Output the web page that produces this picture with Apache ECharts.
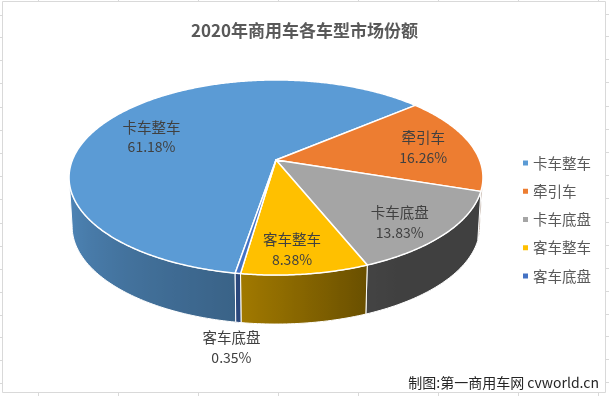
<!DOCTYPE html>
<html><head><meta charset="utf-8">
<script src="https://cdn.jsdelivr.net/npm/echarts/dist/echarts.min.js"></script>
<style>html,body{margin:0;padding:0;background:#fff;overflow:hidden}#c{width:609px;height:396px}</style>
</head><body><div id="c"></div>
<script>
// ---- data ----
const categories = ['卡车整车', '牵引车', '卡车底盘', '客车整车', '客车底盘'];
const shares = [61.18, 16.26, 13.83, 8.38, 0.35];
const colors = ['#5B9BD5', '#ED7D31', '#A5A5A5', '#FFC000', '#4472C4'];
const titleText = '2020年商用车各车型市场份额';
const creditText = '制图:第一商用车网 cvworld.cn';

// ---- layout (geometry of the 3D pie, not data) ----
const G = {cx: 276, cy: 160, A: 203.6, B: 94.4, p: 0.1795, depth: 49, bottomScale: 0.985, start: 189.5};
const labelNudge = [[0, 10], [1, 1], [1, 9], [-5, 8.5], [-7, 25]];
const FONT = '"Noto Sans CJK SC", "Noto Sans", sans-serif';

function proj(phi, r, bottom) {
  const t = phi * Math.PI / 180;
  const u = r * Math.sin(t), v = r * Math.cos(t);
  const s = 1 + G.p * v;
  let x = G.cx + G.A * u / s, y = G.cy - G.B * v / s;
  if (bottom) { x = G.cx + (x - G.cx) * G.bottomScale; y += G.depth; }
  return [x, y];
}
const total = shares.reduce((a, b) => a + b, 0);
const startAngles = [];
(function () { let acc = 0; shares.forEach(v => { startAngles.push(G.start + 360 * acc / total); acc += v; }); })();

function shadeFactor(phi) {
  phi = ((phi % 360) + 360) % 360;
  const pts = [[0, 0.39], [150, 0.39], [158, 0.41], [188, 0.63], [260, 0.88], [360, 0.88]];
  for (let k = 1; k < pts.length; k++) {
    if (phi <= pts[k][0]) {
      const [x0, y0] = pts[k - 1], [x1, y1] = pts[k];
      return y0 + (y1 - y0) * (phi - x0) / (x1 - x0);
    }
  }
  return 0.88;
}
function shade(hex, f) {
  const n = parseInt(hex.slice(1), 16);
  const r = Math.round(((n >> 16) & 255) * f), g = Math.round(((n >> 8) & 255) * f), b = Math.round((n & 255) * f);
  return 'rgb(' + r + ',' + g + ',' + b + ')';
}

function makeRender(i) {
  return function (params, api) {
    const value = api.value(0);
    const a0 = startAngles[i], a1 = a0 + 360 * value / total;
    const children = [];
    const sil = 90 + Math.asin(G.p) * 180 / Math.PI;
    const sil2 = 360 - sil;
    for (let k = -1; k <= 2; k++) {
      const lo = Math.max(a0, sil + 360 * k), hi = Math.min(a1, sil2 + 360 * k);
      if (hi > lo) {
        const n = Math.max(2, Math.ceil(hi - lo));
        const top = [], bot = [], samples = [];
        for (let j = 0; j <= n; j++) {
          const ph = lo + (hi - lo) * j / n;
          top.push(proj(ph, 1, false)); bot.push(proj(ph, 1, true)); samples.push(ph);
        }
        const pts = top.concat(bot.slice().reverse());
        const xs = pts.map(p => p[0]);
        const xmin = Math.min.apply(null, xs), xmax = Math.max.apply(null, xs);
        const stops = samples.map((ph, j) => ({
          offset: xmax > xmin ? Math.min(1, Math.max(0, (top[j][0] - xmin) / (xmax - xmin))) : 0,
          color: shade(colors[i], shadeFactor(ph))
        })).sort((a, b) => a.offset - b.offset);
        children.push({
          type: 'polygon', shape: {points: pts},
          style: {fill: {type: 'linear', x: 0, y: 0, x2: 1, y2: 0, colorStops: stops}, stroke: '#fff', lineWidth: 1}
        });
      }
    }
    const m = Math.max(2, Math.ceil((a1 - a0) / 0.5));
    const arc = [[G.cx, G.cy]];
    for (let j = 0; j <= m; j++) arc.push(proj(a0 + (a1 - a0) * j / m, 1, false));
    children.push({type: 'polygon', shape: {points: arc},
      style: {fill: colors[i], stroke: '#fff', lineWidth: 1.5, lineJoin: 'round'}});

    const mid = (a0 + a1) / 2;
    const lp = i < 4 ? proj(mid, 0.75, false) : proj(mid, 1, true);
    const lx = lp[0] + labelNudge[i][0], ly = lp[1] + labelNudge[i][1];
    children.push({type: 'text', x: lx, y: ly - 10,
      style: {text: categories[i], fill: '#404040', font: '14.5px ' + FONT, align: 'center', verticalAlign: 'middle'}});
    children.push({type: 'text', x: lx, y: ly + 10,
      style: {text: value.toFixed(2) + '%', fill: '#404040', font: '14px ' + FONT, align: 'center', verticalAlign: 'middle'}});
    return {type: 'group', children: children};
  };
}

// frame decorations (Excel sheet border)
const deco = [];
deco.push({type: 'rect', shape: {x: 2.5, y: 1.5, width: 603, height: 391}, style: {fill: 'none', stroke: '#D9D9D9', lineWidth: 1}, silent: true});
for (let x = 38; x < 609; x += 80) {
  deco.push({type: 'line', shape: {x1: x + 0.5, y1: 0, x2: x + 0.5, y2: 1}, style: {stroke: '#D9D9D9'}, silent: true});
  deco.push({type: 'line', shape: {x1: x + 0.5, y1: 393, x2: x + 0.5, y2: 396}, style: {stroke: '#D9D9D9'}, silent: true});
}
[15, 37, 60, 83, 107, 130, 153, 176, 199, 223, 246, 269, 292, 315, 337, 360, 383].forEach(y => {
  deco.push({type: 'line', shape: {x1: 0, y1: y + 0.5, x2: 2, y2: y + 0.5}, style: {stroke: '#D9D9D9'}, silent: true});
  deco.push({type: 'line', shape: {x1: 606, y1: y - 0.5, x2: 609, y2: y - 0.5}, style: {stroke: '#D9D9D9'}, silent: true});
});
deco.push({type: 'text', x: 599, y: 383, style: {text: creditText, fill: '#262626', font: '14px ' + FONT, align: 'right', verticalAlign: 'middle'}});

const chart = echarts.init(document.getElementById('c'), null, {renderer: 'canvas'});
chart.setOption({
  animation: false,
  backgroundColor: '#fff',
  color: colors,
  title: {text: titleText, left: 'center', top: 17,
    textStyle: {fontSize: 17, fontWeight: 'bold', color: '#595959', fontFamily: FONT}},
  legend: {
    orient: 'vertical', left: 518, top: 150, icon: 'rect', itemWidth: 5, itemHeight: 5, itemGap: 12.25,
    data: categories,
    textStyle: {color: '#595959', fontSize: 14.5, lineHeight: 16, fontFamily: FONT}
  },
  graphic: deco,
  series: categories.map((name, i) => ({
    type: 'custom', name: name, coordinateSystem: 'none',
    itemStyle: {color: colors[i]},
    renderItem: makeRender(i),
    data: [[shares[i]]]
  }))
});
</script>
</body></html>
